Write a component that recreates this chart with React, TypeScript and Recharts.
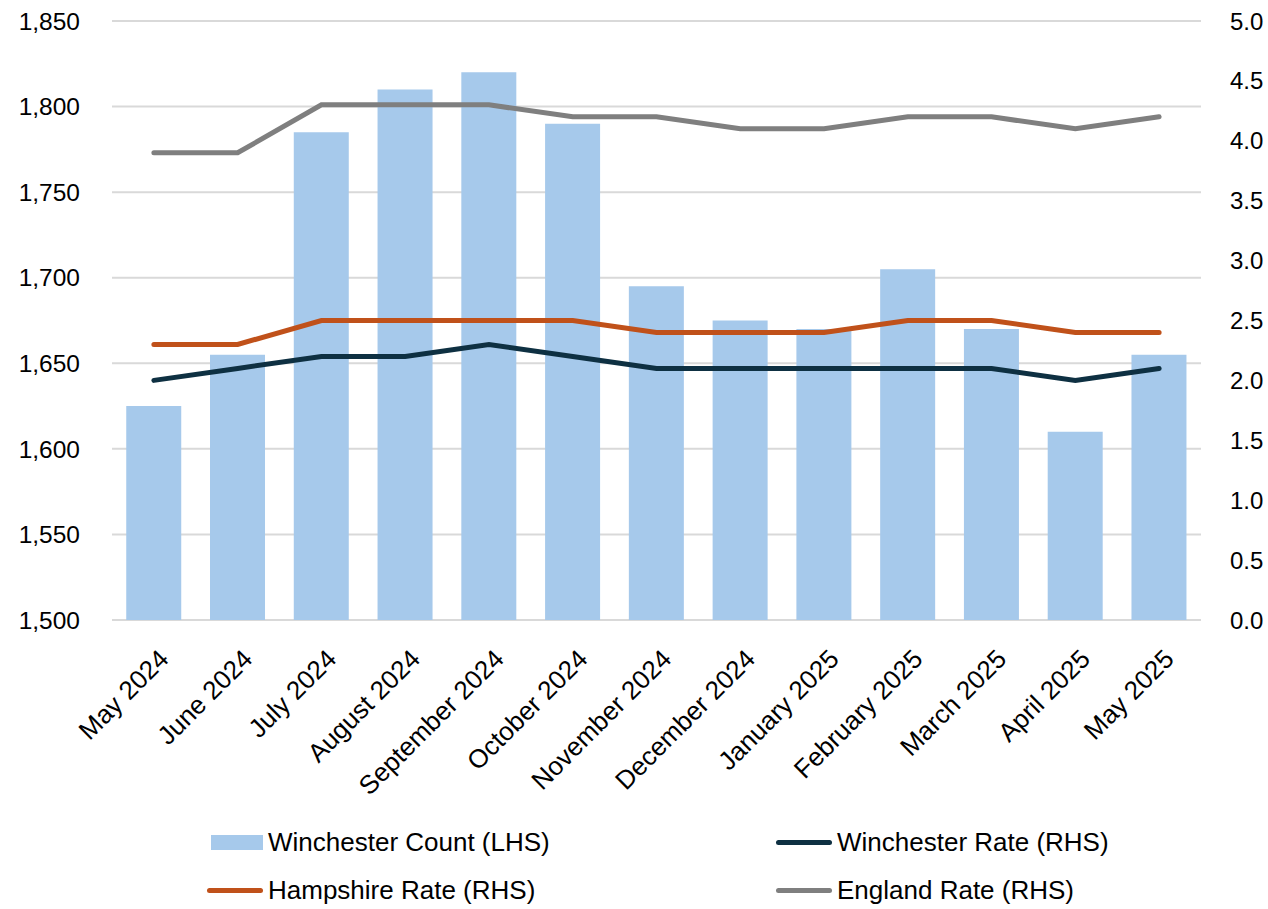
import React from 'react';
import {
  ComposedChart,
  Bar,
  Line,
  XAxis,
  YAxis,
  CartesianGrid,
  Legend,
} from 'recharts';

const months = [
  'May 2024',
  'June 2024',
  'July 2024',
  'August 2024',
  'September 2024',
  'October 2024',
  'November 2024',
  'December 2024',
  'January 2025',
  'February 2025',
  'March 2025',
  'April 2025',
  'May 2025',
];
const winchesterCount = [1625, 1655, 1785, 1810, 1820, 1790, 1695, 1675, 1670, 1705, 1670, 1610, 1655];
const winchesterRate = [2.0, 2.1, 2.2, 2.2, 2.3, 2.2, 2.1, 2.1, 2.1, 2.1, 2.1, 2.0, 2.1];
const hampshireRate = [2.3, 2.3, 2.5, 2.5, 2.5, 2.5, 2.4, 2.4, 2.4, 2.5, 2.5, 2.4, 2.4];
const englandRate = [3.9, 3.9, 4.3, 4.3, 4.3, 4.2, 4.2, 4.1, 4.1, 4.2, 4.2, 4.1, 4.2];

const leftTicks = [1500, 1550, 1600, 1650, 1700, 1750, 1800, 1850];
const rightTicks = [0, 0.5, 1, 1.5, 2, 2.5, 3, 3.5, 4, 4.5, 5];

const FONT = '"Liberation Sans", Arial, sans-serif';
const BAR_COLOR = '#a6c9eb';
const WIN_COLOR = '#0e3042';
const HAM_COLOR = '#c0511a';
const ENG_COLOR = '#7f7f7f';

const data = months.map((m, i) => ({
  month: m,
  count: winchesterCount[i],
  winRate: winchesterRate[i],
  hamRate: hampshireRate[i],
  engRate: englandRate[i],
}));

if (typeof document !== 'undefined') document.body.style.margin = '0';

const MonthTick = ({ x, y, payload }: any) => (
  <g transform={`translate(${x + 10},${y + 26})`}>
    <text
      transform="rotate(-45)"
      textAnchor="end"
      dy="0.35em"
      fontSize={26}
      fontFamily={FONT}
      fill="#000"
    >
      {payload.value}
    </text>
  </g>
);

const legendItems = [
  { label: 'Winchester Count (LHS)', color: BAR_COLOR, bar: true },
  { label: 'Winchester Rate (RHS)', color: WIN_COLOR },
  { label: 'Hampshire Rate (RHS)', color: HAM_COLOR },
  { label: 'England Rate (RHS)', color: ENG_COLOR },
];

const ChartLegend = () => (
  <div style={{ position: 'relative', width: 1268, height: 99, fontFamily: FONT, fontSize: 26, color: '#000' }}>
    {legendItems.map((it, i) => {
      const left = i % 2 === 0 ? 207 : 776;
      const top = i < 2 ? 32 : 80;
      return (
        <div
          key={it.label}
          style={{ position: 'absolute', left, top: top - 16, height: 32, display: 'flex', alignItems: 'center', whiteSpace: 'nowrap' }}
        >
          {it.bar ? (
            <span style={{ display: 'inline-block', width: 52, height: 15, background: it.color, marginLeft: 4, marginRight: 5 }} />
          ) : (
            <span style={{ display: 'inline-block', width: 56, height: 5, borderRadius: 3, background: it.color, marginRight: 5 }} />
          )}
          <span>{it.label}</span>
        </div>
      );
    })}
  </div>
);

export default function App() {
  return (
    <ComposedChart
      width={1268}
      height={909}
      data={data}
      margin={{ top: 21, right: 0, bottom: 0, left: 0 }}
      barCategoryGap="17%"
      style={{ fontFamily: FONT }}
    >
      <CartesianGrid yAxisId="left" vertical={false} stroke="#d9d9d9" strokeWidth={2} />
      <XAxis
        dataKey="month"
        interval={0}
        axisLine={false}
        tickLine={false}
        height={190}
        tick={<MonthTick />}
      />
      <YAxis
        yAxisId="left"
        orientation="left"
        domain={[1500, 1850]}
        ticks={leftTicks}
        width={112}
        axisLine={false}
        tickLine={false}
        tickSize={6}
        tickMargin={26}
        tickFormatter={(v: number) => v.toLocaleString('en-GB')}
        tick={{ fontSize: 24.5, fill: '#000', fontFamily: FONT }}
      />
      <YAxis
        yAxisId="right"
        orientation="right"
        domain={[0, 5]}
        ticks={rightTicks}
        width={67}
        axisLine={false}
        tickLine={false}
        tickSize={6}
        tickMargin={23}
        tickFormatter={(v: number) => v.toFixed(1)}
        tick={{ fontSize: 24, fill: '#000', fontFamily: FONT, textAnchor: 'start' }}
      />
      <Bar yAxisId="left" dataKey="count" name="Winchester Count (LHS)" fill={BAR_COLOR} isAnimationActive={false} />
      <Line yAxisId="right" dataKey="winRate" name="Winchester Rate (RHS)" stroke={WIN_COLOR} strokeWidth={5} strokeLinecap="round" dot={false} isAnimationActive={false} />
      <Line yAxisId="right" dataKey="hamRate" name="Hampshire Rate (RHS)" stroke={HAM_COLOR} strokeWidth={5} strokeLinecap="round" dot={false} isAnimationActive={false} />
      <Line yAxisId="right" dataKey="engRate" name="England Rate (RHS)" stroke={ENG_COLOR} strokeWidth={5} strokeLinecap="round" dot={false} isAnimationActive={false} />
      <Legend verticalAlign="bottom" height={99} wrapperStyle={{ left: 0, width: 1268 }} content={() => <ChartLegend />} />
    </ComposedChart>
  );
}
